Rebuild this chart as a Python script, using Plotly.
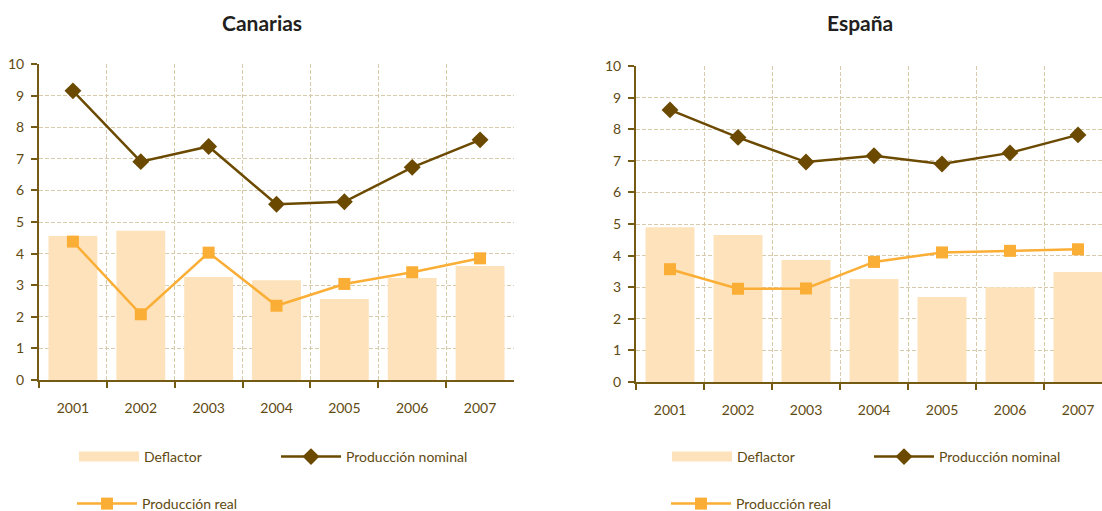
import plotly.graph_objects as go

years = ["2001", "2002", "2003", "2004", "2005", "2006", "2007"]

can_deflactor = [4.56, 4.72, 3.26, 3.16, 2.56, 3.23, 3.61]
can_nominal = [9.15, 6.91, 7.39, 5.56, 5.64, 6.73, 7.60]
can_real = [4.38, 2.08, 4.03, 2.35, 3.04, 3.41, 3.85]

esp_deflactor = [4.90, 4.65, 3.86, 3.26, 2.69, 3.00, 3.48]
esp_nominal = [8.61, 7.74, 6.96, 7.16, 6.90, 7.25, 7.82]
esp_real = [3.57, 2.95, 2.96, 3.80, 4.10, 4.15, 4.20]

titles = ["Canarias", "España"]

BAR = "#fde2bb"
NOM = "#6b4a00"
REAL = "#fbae35"
AXIS = "#755a14"
TXT = "#5f4a12"
GRID = "#d8cbab"
FONT = "Lato, 'Open Sans', sans-serif"

W, H = 1102, 511
fig = go.Figure()

panels = [
    (can_deflactor, can_nominal, can_real, "x", "y", "legend", "legend3"),
    (esp_deflactor, esp_nominal, esp_real, "x2", "y2", "legend2", "legend4"),
]
for defl, nom, real, xa, ya, lg1, lg2 in panels:
    fig.add_trace(go.Bar(x=years, y=defl, name="Deflactor", marker=dict(color=BAR, line=dict(width=0)),
                         width=0.72, xaxis=xa, yaxis=ya, showlegend=False))
    # legend key for the bars (wide swatch like the original)
    fig.add_trace(go.Scatter(x=[None], y=[None], name="Deflactor", mode="lines",
                             line=dict(color=BAR, width=13), xaxis=xa, yaxis=ya, legend=lg1))
    fig.add_trace(go.Scatter(x=years, y=nom, name="Producción nominal", mode="lines+markers",
                             line=dict(color=NOM, width=2.5),
                             marker=dict(symbol="diamond", size=13, color=NOM),
                             xaxis=xa, yaxis=ya, legend=lg1))
    fig.add_trace(go.Scatter(x=years, y=real, name="Producción real", mode="lines+markers",
                             line=dict(color=REAL, width=2.5),
                             marker=dict(symbol="square", size=12, color=REAL),
                             xaxis=xa, yaxis=ya, legend=lg2))

def xaxis_cfg(domain, rng, anchor):
    return dict(domain=domain, anchor=anchor, type="category", range=rng, tickson="boundaries",
                showline=True, linecolor=AXIS, linewidth=2,
                ticks="outside", ticklen=6, tickcolor=AXIS, tickwidth=1.5,
                showgrid=True, gridcolor=GRID, griddash="4px,2px", gridwidth=1.2,
                tickfont=dict(family=FONT, size=14, color=TXT), ticklabelstandoff=14,
                fixedrange=True)

def yaxis_cfg(domain, anchor):
    return dict(domain=domain, anchor=anchor, range=[0, 10], dtick=1,
                showline=True, linecolor=AXIS, linewidth=2,
                ticks="outside", ticklen=6, tickcolor=AXIS, tickwidth=1.5,
                showgrid=True, gridcolor=GRID, griddash="4px,2px", gridwidth=1.2,
                zeroline=False, fixedrange=True,
                tickfont=dict(family=FONT, size=14, color=TXT), ticklabelstandoff=4)

fig.update_layout(
    width=W, height=H,
    margin=dict(l=0, r=0, t=0, b=0, autoexpand=False),
    paper_bgcolor="white", plot_bgcolor="white",
    barmode="overlay",
    font=dict(family=FONT, color=TXT),
    xaxis=xaxis_cfg([39 / W, 514 / W], [-0.5, 6.5], "y"),
    yaxis=yaxis_cfg([(H - 380) / H, (H - 64) / H], "x"),
    xaxis2=xaxis_cfg([636 / W, 1.0], [-0.5, 6.5 - (1112 - 1102) / 68], "y2"),
    yaxis2=yaxis_cfg([(H - 382) / H, (H - 66) / H], "x2"),
    showlegend=True,
    hovermode=False,
)

leg_common = dict(orientation="h", bgcolor="rgba(0,0,0,0)", font=dict(family=FONT, size=14, color=TXT),
                  xanchor="left", yanchor="middle", entrywidth=127, entrywidthmode="pixels",
                  itemwidth=60, itemclick=False, itemdoubleclick=False)
fig.update_layout(
    legend=dict(leg_common, x=74 / W, y=1 - 457 / H),
    legend3=dict(leg_common, x=72 / W, y=1 - 504 / H),
    legend2=dict(leg_common, x=667 / W, y=1 - 457 / H),
    legend4=dict(leg_common, x=666 / W, y=1 - 504 / H),
)

centers = [(262, 22), (860, 22)]
for t, (cx, cy) in zip(titles, centers):
    fig.add_annotation(text=f"<b>{t}</b>", x=cx / W, y=1 - cy / H, xref="paper", yref="paper",
                       showarrow=False, xanchor="center", yanchor="middle",
                       font=dict(family=FONT, size=21, color="#231f20"))

fig.write_html("out.html", config={"displayModeBar": False},
               post_script="document.body.style.margin='0';document.body.style.overflow='hidden';")
